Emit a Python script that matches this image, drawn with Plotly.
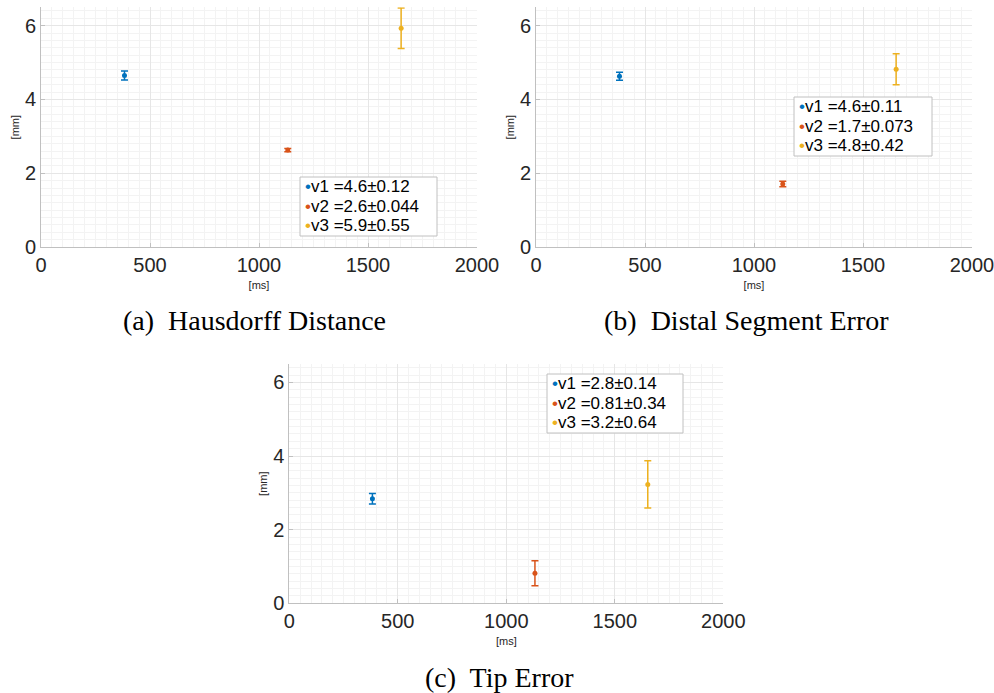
import plotly.graph_objects as go

# ---- data ----
versions = ["v1", "v2", "v3"]
time_ms = [383, 1132, 1652]
colors = ["#0072BD", "#D95319", "#EDB120"]

hausdorff_mean = [4.65, 2.63, 5.93]
hausdorff_std = [0.12, 0.044, 0.55]
hausdorff_label = ["4.6±0.12", "2.6±0.044", "5.9±0.55"]

distal_mean = [4.63, 1.71, 4.82]
distal_std = [0.11, 0.073, 0.42]
distal_label = ["4.6±0.11", "1.7±0.073", "4.8±0.42"]

tip_mean = [2.84, 0.815, 3.23]
tip_std = [0.14, 0.34, 0.64]
tip_label = ["2.8±0.14", "0.81±0.34", "3.2±0.64"]

captions = ["(a)  Hausdorff Distance", "(b)  Distal Segment Error", "(c)  Tip Error"]
x_title = "[ms]"
y_title = "[mm]"

W, H = 994, 693
fig = go.Figure()

# layout (pixel positions of plot areas and legend boxes)
panels = [
    dict(means=hausdorff_mean, stds=hausdorff_std, labels=hausdorff_label,
         xd=[41, 477], yd=[7.3, 247], legend=(300, 177, 137, 59)),
    dict(means=distal_mean, stds=distal_std, labels=distal_label,
         xd=[536, 972], yd=[7.3, 247], legend=(794, 97, 138, 59)),
    dict(means=tip_mean, stds=tip_std, labels=tip_label,
         xd=[289.3, 723.3], yd=[364, 603.3], legend=(547, 374, 136, 59)),
]

cap_pos = [(254, 320), (746, 320), (500, 677)]


def px(x):
    return x / W


def py(y):
    return 1 - y / H


for p_i, p in enumerate(panels):
    sfx = "" if p_i == 0 else str(p_i + 1)
    for i, v in enumerate(versions):
        fig.add_trace(go.Scatter(
            x=[time_ms[i]], y=[p["means"][i]],
            mode="markers",
            marker=dict(color=colors[i], size=5),
            error_y=dict(type="data", array=[p["stds"][i]], visible=True,
                         color=colors[i], thickness=1.5, width=3.5),
            name=f"{v} ={p['labels'][i]}",
            xaxis="x" + sfx, yaxis="y" + sfx,
            showlegend=False,
        ))
    axcommon = dict(showline=True, linecolor="#c0c0c0", linewidth=1,
                    ticks="inside", ticklen=4, tickcolor="#c0c0c0",
                    showgrid=True, gridcolor="#e6e6e6", gridwidth=1,
                    zeroline=False, tickfont=dict(family="Liberation Sans", size=20, color="#262626"),
                    mirror=False, fixedrange=True, automargin=False,
                    ticklabeloverflow="allow")
    fig.update_layout(**{
        "xaxis" + sfx: dict(axcommon, domain=[px(p["xd"][0]), px(p["xd"][1])],
                            range=[0, 2000], dtick=500, tick0=0,
                            anchor="y" + sfx,
                            minor=dict(dtick=50, showgrid=True, gridcolor="#f3f3f3"),
                            title=dict(text=x_title, standoff=6,
                                       font=dict(family="Liberation Sans", size=11, color="#262626"))),
        "yaxis" + sfx: dict(axcommon, domain=[py(p["yd"][1]), py(p["yd"][0])],
                            range=[0, 6.5], dtick=2, tick0=0,
                            anchor="x" + sfx,
                            minor=dict(dtick=0.2, showgrid=True, gridcolor="#f3f3f3"),
                            title=dict(text=y_title, standoff=3,
                                       font=dict(family="Liberation Sans", size=11, color="#262626"))),
    })
    # legend box built from the same series names/colours
    lx, ly, lw, lh = p["legend"]
    fig.add_shape(type="rect", xref="paper", yref="paper",
                  x0=px(lx), x1=px(lx + lw), y0=py(ly + lh), y1=py(ly),
                  line=dict(color="#c0c0c0", width=1), fillcolor="white", layer="above")
    for i, v in enumerate(versions):
        rowy = ly + 9.5 + i * 19.5
        fig.add_annotation(
            text=f"<span style='color:{colors[i]}'>•</span>{v} ={p['labels'][i]}",
            x=px(lx + 3), y=py(rowy), xref="paper", yref="paper",
            showarrow=False, xanchor="left", yanchor="middle",
            font=dict(family="Liberation Sans", size=17, color="#000000"))
    fig.add_annotation(text=captions[p_i], x=px(cap_pos[p_i][0]), y=py(cap_pos[p_i][1]),
                       xref="paper", yref="paper", showarrow=False,
                       xanchor="center", yanchor="middle",
                       font=dict(family="Liberation Serif", size=28, color="#000000"))

fig.update_layout(width=W, height=H, margin=dict(l=0, r=0, t=0, b=0),
                  paper_bgcolor="white", plot_bgcolor="white", showlegend=False)

fig.write_html("out.html", config={"displayModeBar": False},
               post_script="document.body.style.margin='0';")
